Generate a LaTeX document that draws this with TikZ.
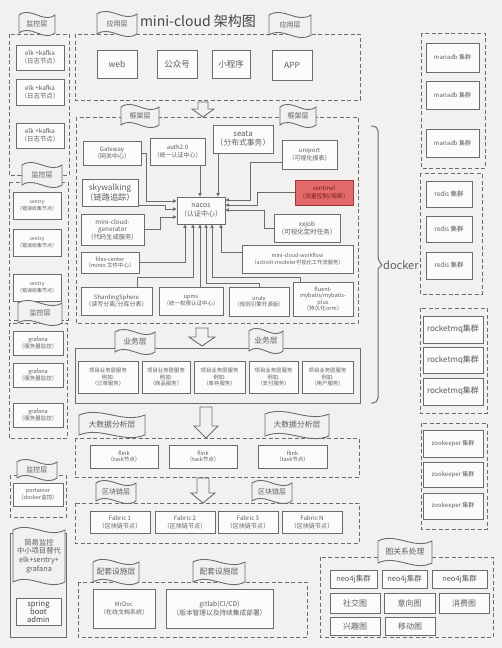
\documentclass[tikz,border=0pt]{standalone}
\usepackage{fontspec}
\setmainfont{Noto Sans CJK SC}
\usetikzlibrary{arrows.meta}
\definecolor{bg}{HTML}{F2F1EF}
\definecolor{ln}{HTML}{6C6C6C}
\definecolor{tx}{HTML}{5E5E5E}
\definecolor{bx}{HTML}{FBFBFA}
\definecolor{redf}{HTML}{E26A6A}
\definecolor{redd}{HTML}{9A3A3A}
\definecolor{redt}{HTML}{7A1E1E}
\tikzset{
 box/.style={draw=ln, line width=0.9pt, fill=bx, text=tx, align=center, inner sep=0.5pt, font=\fontsize{6}{7.4}\selectfont},
 wh/.style 2 args={minimum width=#1pt, minimum height=#2pt},
 cont/.style={draw=ln, line width=1pt, dash pattern=on 4pt off 2.5pt},
 solidc/.style={draw=ln, line width=1pt},
 link/.style={draw=ln, line width=0.8pt, -{Triangle[length=3.5pt,width=3.4pt]}},
 flagsty/.style={draw=ln, line width=0.9pt, fill=bg},
 tagtext/.style={text=tx, align=center, inner sep=0pt},
 smf/.style={font=\fontsize{5.5}{6.8}\selectfont},
 tinyf/.style={font=\fontsize{5}{6.4}\selectfont},
 bizf/.style={font=\fontsize{5.4}{6.8}\selectfont},
 fabf/.style={font=\fontsize{6.1}{7.4}\selectfont},
}
% name, cx, cy, w, h, text, font
\newcommand\flagtag[7]{%
 \draw[flagsty] ({#2-(#4)/2},{#3-(#5)/2}) .. controls ({#2-(#4)/6},{#3-(#5)/2-9}) and ({#2+(#4)/6},{#3-(#5)/2+9}) .. ({#2+(#4)/2},{#3-(#5)/2})
   -- ({#2+(#4)/2},{#3+(#5)/2}) .. controls ({#2+(#4)/6},{#3+(#5)/2+9}) and ({#2-(#4)/6},{#3+(#5)/2-9}) .. ({#2-(#4)/2},{#3+(#5)/2}) -- cycle;
 \node[tagtext, font=#7] (#1) at (#2,#3) {#6};}
% cx, ytop, ybot, shaft half, head half, head height
\newcommand\blockdown[6]{%
 \draw[flagsty] ({#1-#4},#2) -- ({#1+#4},#2) -- ({#1+#4},{#3-#6}) -- ({#1+#5},{#3-#6}) -- (#1,#3) -- ({#1-#5},{#3-#6}) -- ({#1-#4},{#3-#6}) -- cycle;}
\newcommand\tagf{\fontsize{7}{8.4}\selectfont}
\newcommand\tagF{\fontsize{7.8}{9}\selectfont}
\begin{document}
\begin{tikzpicture}[x=1pt,y=-1pt]
\fill[bg] (0,0) rectangle (502,648);
\useasboundingbox (0,0) rectangle (502,648);

% ---------------- left monitor column
\draw[cont] (9,34) rectangle (69,175);
\draw[cont] (9,182) rectangle (68,320);
\draw[cont] (9,323) rectangle (67,438);
\draw[cont] (10,475) rectangle (66,517);
\draw[solidc] (10,533) rectangle (66,637);

\node[box, wh={48}{25}, font=\fontsize{6.4}{7.8}\selectfont] (elk1) at (40,57.5) {elk +kafka\\（日志节点）};
\node[box, wh={48}{26}, font=\fontsize{6.4}{7.8}\selectfont] (elk2) at (40,92) {elk +kafka\\（日志节点）};
\node[box, wh={48}{25}, font=\fontsize{6.4}{7.8}\selectfont] (elk3) at (40,135.5) {elk +kafka\\（日志节点）};

\node[box, tinyf, wh={48}{27}] (sen1) at (37,205.5) {sentry\\（错误收集节点）};
\node[box, tinyf, wh={48}{27}] (sen2) at (37,242.5) {sentry\\（错误收集节点）};
\node[box, tinyf, wh={48}{27}] (sen3) at (37,287.5) {sentry\\（错误收集节点）};

\node[box, smf, wh={50}{24}] (gra1) at (38,343) {grafana\\（服务器监控）};
\node[box, smf, wh={50}{24}] (gra2) at (38,375) {grafana\\（服务器监控）};
\node[box, smf, wh={50}{24}] (gra3) at (38,415) {grafana\\（服务器监控）};

\node[box, smf, wh={50}{23}] (port) at (38,494.5) {portainer\\（docker监控）};
\node[box, wh={45}{27}, font=\fontsize{7.6}{8.2}\selectfont, text=tx!70!black] (sba) at (38.5,611.5) {spring\\boot\\admin};

\flagtag{tmon1}{37}{24}{36}{18}{监控层}{\tagf}
\flagtag{tmon2}{42}{175}{40}{20}{监控层}{\tagf}
\flagtag{tmon3}{40}{313}{44}{20}{监控层}{\tagf}
\flagtag{tmon4}{37}{470}{40}{16}{监控层}{\tagf}
\flagtag{tsimple}{39}{556}{52}{52}{简易监控\\中小项目替代\\elk+sentry+\\grafana}{\fontsize{7.3}{8.7}\selectfont}

% ---------------- title
\node[font=\fontsize{14}{16}\selectfont, text=tx!75!black, inner sep=0pt] (title) at (198,21) {mini-cloud 架构图};

% ---------------- application layer
\draw[cont] (75,34) rectangle (360,100);
\node[box, wh={40}{28}, font=\fontsize{8.5}{10}\selectfont] (web) at (117,64) {web};
\node[box, wh={40}{28}, font=\fontsize{8.5}{10}\selectfont] (gzh) at (177,64) {公众号};
\node[box, wh={38}{28}, font=\fontsize{8.5}{10}\selectfont] (xcx) at (231,64) {小程序};
\node[box, wh={40}{30}, font=\fontsize{8.5}{10}\selectfont] (app) at (292,65) {APP};
\flagtag{tapp1}{117}{24}{40}{20}{应用层}{\tagf}
\flagtag{tapp2}{290}{25}{42}{20}{应用层}{\tagf}

\blockdown{203}{102}{117}{5}{11}{8}

% ---------------- framework layer
\draw[cont] (76,117) rectangle (358,323);
\flagtag{tfw1}{140}{116}{38}{18}{框架层}{\tagf}
\flagtag{tfw2}{298}{116}{36}{18}{框架层}{\tagf}

\node[box, wh={58}{24}] (gw) at (112,153) {Gateway\\（网关中心）};
\node[box, wh={55}{27}] (auth) at (177.5,151.5) {auth2.0\\（统一认证中心）};
\node[box, wh={60}{28}, font=\fontsize{7.8}{9.2}\selectfont] (seata) at (243,139) {seata\\（分布式事务）};
\node[box, wh={55}{29}] (urep) at (309.5,154.5) {ureport\\（可视化报表）};
\node[box, wh={56}{27}, font=\fontsize{8.2}{9.6}\selectfont] (sky) at (110,192.5) {skywalking\\（链路追踪）};
\node[box, wh={48}{27}, font=\fontsize{7}{8.4}\selectfont] (nacos) at (201,210.5) {nacos\\（认证中心）};
\node[box, wh={58}{25}, fill=redf, draw=redd, text=redt] (sent) at (324,192.5) {sentinel\\（流量控制/熔断）};
\node[box, wh={63}{31}, font=\fontsize{6.3}{7.4}\selectfont] (gen) at (112.5,229.5) {mini-cloud-\\generator\\（代码生成服务）};
\node[box, wh={66}{28}, font=\fontsize{6.5}{7.8}\selectfont] (xxjob) at (307,228) {xxjob\\（可视化定时任务）};
\node[box, smf, wh={58}{21}] (files) at (110,262.5) {files-center\\（minio 文件中心）};
\node[box, wh={111}{28}, font=\fontsize{5.3}{7}\selectfont] (wf) at (297.5,259) {mini-cloud-workflow\\（activiti-modeler可视化工作流服务）};
\node[box, wh={71}{28}] (shard) at (116.5,301) {ShardingSphere\\（读写分离/分库分表）};
\node[box, smf, wh={64}{28}] (upms) at (191,301) {upms\\（统一权限认证中心）};
\node[box, smf, wh={60}{29}] (urule) at (259,301.5) {urule\\（规则引擎开源版）};
\node[box, wh={60}{34}, font=\fontsize{5.6}{6.6}\selectfont] (fluent) at (323,299) {fluent-\\mybatis/mybatis-\\plus\\（持久化orm）};

% connectors to nacos
\draw[link] (gw.east) -- (146,153) -- (146,201) -- ([yshift=9.5pt]nacos.west);
\draw[link] ([yshift=-12.5pt]sky.east) -- (165,205) -- (165,209) -- ([yshift=1.5pt]nacos.west);
\draw[link] (gen.east) -- (160,229.5) -- (160,217) -- ([yshift=-6.5pt]nacos.west);
\draw[link] ([xshift=22.5pt]auth.south) -- ([xshift=-1pt]nacos.north);
\draw[link] ([xshift=-25pt]seata.south) -- ([xshift=17pt]nacos.north);
\draw[link] ([yshift=-7.5pt]urep.west) -- (250,162) -- (250,200) -- ([yshift=10.5pt]nacos.east);
\draw[link] (sent.west) -- (257,192.5) -- (257,205) -- ([yshift=5.5pt]nacos.east);
\draw[link] (xxjob.west) -- (264,228) -- (264,210) -- ([yshift=0.5pt]nacos.east);
\draw[link] ([yshift=7pt]wf.west) -- (221,252) -- ([xshift=20pt]nacos.south);
\draw[link] (files.east) -- (185,262.5) -- ([xshift=-16pt]nacos.south);
\draw[link] ([xshift=20.5pt]shard.north) -- (137,277) -- (193,277) -- ([xshift=-8pt]nacos.south);
\draw[link] ([xshift=9pt]upms.north) -- ([xshift=-1pt]nacos.south);
\draw[link] (urule.north) -- (259,283) -- (206,283) -- ([xshift=5pt]nacos.south);
\draw[link] ([xshift=-23pt]fluent.north) -- (300,277) -- (212,277) -- ([xshift=11pt]nacos.south);

% docker bracket
\draw[ln, line width=1pt] (371,126) [rounded corners=5pt] -- (378,126) -- (378,261) [sharp corners] -- (382,265) -- (378,269) [rounded corners=5pt] -- (378,403) -- (371,403);
\node[text=tx, font=\fontsize{11}{13}\selectfont, anchor=west, inner sep=0pt] (docker) at (383,265) {docker};

% ---------------- business layer
\blockdown{202}{328}{346}{6}{13}{9}
\draw[solidc] (75,348) rectangle (360,403);
\flagtag{tbiz1}{135}{342}{40}{20}{业务层}{\tagF}
\flagtag{tbiz2}{266}{341}{34}{20}{业务层}{\tagF}
\node[box, bizf, wh={60}{32}] (biz1) at (108,377) {项目业务层服务\\例如:\\（订单服务）};
\node[box, bizf, wh={48}{32}] (biz2) at (166,377) {项目业务层服务\\例如:\\（商品服务）};
\node[box, bizf, wh={51}{32}] (biz3) at (219.5,377) {项目业务层服务\\例如:\\（库存服务）};
\node[box, bizf, wh={49}{32}] (biz4) at (273.5,377) {项目业务层服务\\例如:\\（支付服务）};
\node[box, bizf, wh={51}{32}] (biz5) at (327.5,377) {项目业务层服务\\例如:\\（用户服务）};

% ---------------- big data layer
\blockdown{206}{407}{438}{6}{12}{12}
\draw[cont] (75,438) rectangle (359,477);
\flagtag{tbd1}{112}{425}{66}{20}{大数据分析层}{\tagF}
\flagtag{tbd2}{297}{425}{64}{22}{大数据分析层}{\tagF}
\node[box, smf, wh={68}{23}] (fl1) at (124,456.5) {flink\\（task节点）};
\node[box, smf, wh={68}{23}] (fl2) at (203,456.5) {flink\\（task节点）};
\node[box, smf, wh={69}{23}] (fl3) at (292.5,456.5) {flink\\（task节点）};

% ---------------- blockchain layer
\blockdown{203}{478}{503}{6}{12}{10}
\draw[cont] (75,503) rectangle (359,543);
\flagtag{tbc1}{116}{492}{40}{18}{区块链层}{\tagf}
\flagtag{tbc2}{272}{492}{40}{18}{区块链层}{\tagf}
\node[box, fabf, wh={60}{22}] (fab1) at (120,522.5) {Fabric 1\\（区块链节点）};
\node[box, fabf, wh={60}{22}] (fab2) at (185,522.5) {Fabric 2\\（区块链节点）};
\node[box, fabf, wh={60}{22}] (fab3) at (248,522.5) {Fabric 3\\（区块链节点）};
\node[box, fabf, wh={60}{22}] (fabn) at (312,522.5) {Fabric N\\（区块链节点）};

% ---------------- support layer
\draw[cont] (78,582) rectangle (307,637);
\flagtag{tsup1}{116}{572}{46}{20}{配套设施层}{\tagF}
\flagtag{tsup2}{219}{572}{52}{20}{配套设施层}{\tagF}
\node[box, wh={62}{39}] (mrdoc) at (124,608.5) {MrDoc\\（在线文档系统）};
\node[box, wh={107}{39}, font=\fontsize{6.7}{8.2}\selectfont] (gitlab) at (219.5,608.5) {gitlab(CI/CD)\\（版本管理以及持续集成部署）};

% ---------------- right column
\draw[cont] (421,33) rectangle (485,168);
\node[box, wh={53}{29}] (mdb1) at (452.5,57.5) {mariadb 集群};
\node[box, wh={53}{28}] (mdb2) at (452.5,95) {mariadb 集群};
\node[box, wh={53}{28}] (mdb3) at (452.5,143) {mariadb 集群};

\draw[cont] (420,173) rectangle (482,294);
\node[box, wh={46}{26}, font=\fontsize{6.5}{7.8}\selectfont] (rd1) at (449,194) {redis 集群};
\node[box, wh={46}{26}, font=\fontsize{6.5}{7.8}\selectfont] (rd2) at (449,229) {redis 集群};
\node[box, wh={46}{27}, font=\fontsize{6.5}{7.8}\selectfont] (rd3) at (449,265.5) {redis 集群};

\draw[cont] (420,308) rectangle (487,413);
\node[box, wh={60}{27}, font=\fontsize{8}{9.6}\selectfont] (rmq1) at (453,329.5) {rocketmq集群};
\node[box, wh={60}{26}, font=\fontsize{8}{9.6}\selectfont] (rmq2) at (453,360) {rocketmq集群};
\node[box, wh={60}{27}, font=\fontsize{8}{9.6}\selectfont] (rmq3) at (453,391.5) {rocketmq集群};

\draw[cont] (421,423) rectangle (487,529);
\node[box, wh={60}{27}] (zk1) at (453,443.5) {zookeeper 集群};
\node[box, wh={60}{25}] (zk2) at (453,474.5) {zookeeper 集群};
\node[box, wh={60}{26}] (zk3) at (453,506) {zookeeper 集群};

\draw[cont] (320,557) rectangle (493,637);
\flagtag{tgraph}{405}{552}{54}{22}{图关系处理}{\tagF}
\node[box, wh={47}{18}, font=\fontsize{7.5}{9}\selectfont] (neo1) at (353.5,579) {neo4j集群};
\node[box, wh={45}{18}, font=\fontsize{7.5}{9}\selectfont] (neo2) at (404.5,579) {neo4j集群};
\node[box, wh={55}{18}, font=\fontsize{7.5}{9}\selectfont] (neo3) at (459.5,579) {neo4j集群};
\node[box, wh={50}{20}, font=\fontsize{8}{9.6}\selectfont] (sjt) at (355,603) {社交图};
\node[box, wh={51}{20}, font=\fontsize{8}{9.6}\selectfont] (yxt) at (409.5,603) {意向图};
\node[box, wh={50}{20}, font=\fontsize{8}{9.6}\selectfont] (xft) at (464,603) {消费图};
\node[box, wh={50}{18}, font=\fontsize{8}{9.6}\selectfont] (xqt) at (355,626) {兴趣图};
\node[box, wh={50}{18}, font=\fontsize{8}{9.6}\selectfont] (ydt) at (410,626) {移动图};
\end{tikzpicture}
\end{document}
